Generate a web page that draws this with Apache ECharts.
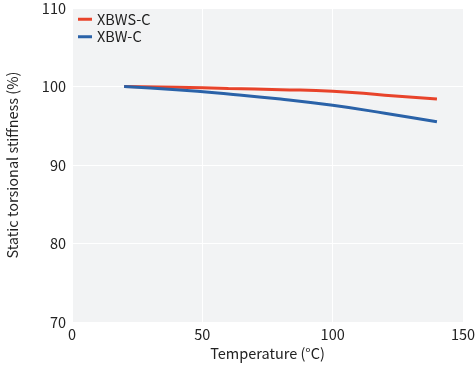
<!DOCTYPE html>
<html><head><meta charset="utf-8">
<script src="https://cdn.jsdelivr.net/npm/echarts@6/dist/echarts.min.js"></script>
<style>html,body{margin:0;padding:0;background:#fff}#c{width:475px;height:365px}</style>
</head><body><div id="c"></div>
<script>
const temps = [20, 40, 60, 80, 100, 120, 140];
const xbwsC = [100, 99.9, 99.75, 99.6, 99.4, 98.9, 98.4];
const xbwC = [100, 99.6, 99.05, 98.4, 97.6, 96.6, 95.5];
const seriesNames = ['XBWS-C', 'XBW-C'];
const font = '"Noto Sans CJK JP", "Noto Sans", sans-serif';
const fs = 14.5;
const chart = echarts.init(document.getElementById('c'));
chart.setOption({
  animation: false,
  textStyle: {fontFamily: font},
  grid: {left: 72, right: 12, top: 8, bottom: 43, show: true, backgroundColor: '#f2f3f4', borderWidth: 0, outerBoundsMode: 'none', containLabel: false},
  legend: {
    left: 73, top: 7, orient: 'vertical', itemGap: 3,
    itemWidth: 14, itemHeight: 3, icon: 'rect',
    textStyle: {fontSize: fs, color: '#222', fontFamily: font},
    data: seriesNames
  },
  xAxis: {
    type: 'value', min: 0, max: 150, interval: 50,
    name: 'Temperature (°C)', nameLocation: 'middle', nameGap: 24,
    nameTextStyle: {fontSize: fs, color: '#222', fontFamily: font},
    axisLine: {show: false}, axisTick: {show: false},
    axisLabel: {fontSize: fs, color: '#222', margin: 5, fontFamily: font},
    splitLine: {lineStyle: {color: '#ffffff', width: 1}}
  },
  yAxis: {
    type: 'value', min: 70, max: 110, interval: 10,
    name: 'Static torsional stiffness (%)', nameLocation: 'middle', nameGap: 52,
    nameTextStyle: {fontSize: fs, color: '#222', fontFamily: font},
    axisLine: {show: false}, axisTick: {show: false},
    axisLabel: {fontSize: fs, color: '#222', margin: 6, fontFamily: font},
    splitLine: {lineStyle: {color: '#ffffff', width: 1}}
  },
  series: [
    {name: seriesNames[0], type: 'line', data: temps.map((t, i) => [t, xbwsC[i]]), smooth: true, showSymbol: false, lineStyle: {color: '#e8432a', width: 3}, itemStyle: {color: '#e8432a'}},
    {name: seriesNames[1], type: 'line', data: temps.map((t, i) => [t, xbwC[i]]), smooth: true, showSymbol: false, lineStyle: {color: '#2a62a8', width: 3}, itemStyle: {color: '#2a62a8'}}
  ]
});
</script></body></html>
